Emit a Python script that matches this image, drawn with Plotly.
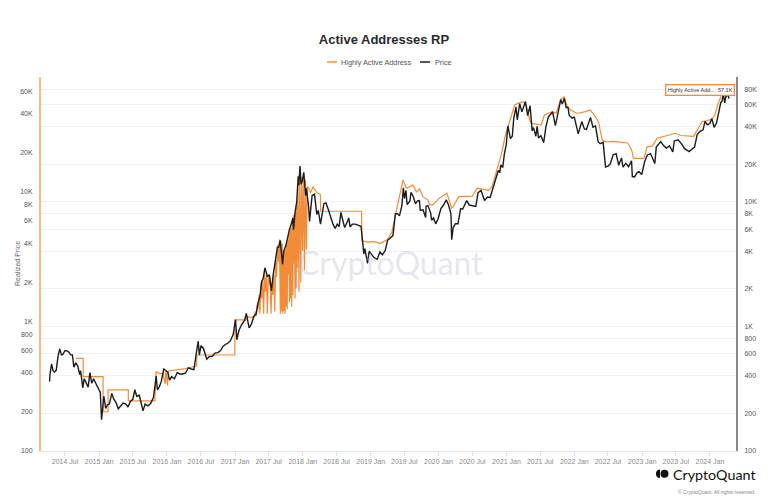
import plotly.graph_objects as go

# ---------------- data ----------------
price_dates = [
"2014-04-09","2014-04-12","2014-04-20","2014-04-28","2014-05-06","2014-05-15","2014-05-25","2014-06-03","2014-06-12","2014-06-20",
"2014-07-01","2014-07-12","2014-07-22","2014-08-01","2014-08-10","2014-08-18","2014-08-28","2014-09-08","2014-09-18","2014-09-23",
"2014-10-05","2014-10-12","2014-10-22","2014-11-03","2014-11-12","2014-11-22","2014-12-02","2014-12-15","2014-12-28","2015-01-07",
"2015-01-14","2015-01-20","2015-01-26","2015-02-05","2015-02-15","2015-02-25","2015-03-10","2015-03-20","2015-04-01","2015-04-14",
"2015-04-25","2015-05-10","2015-05-25","2015-06-05","2015-06-18","2015-07-01","2015-07-12","2015-07-22","2015-08-05","2015-08-18",
"2015-08-25","2015-09-05","2015-09-20","2015-10-05","2015-10-20","2015-11-04","2015-11-10","2015-11-20","2015-12-01","2015-12-15",
"2015-12-25","2016-01-05","2016-01-15","2016-01-26","2016-02-10","2016-02-25","2016-03-10","2016-03-25","2016-04-10","2016-04-25",
"2016-05-10","2016-05-25","2016-06-05","2016-06-17","2016-06-23","2016-07-02","2016-07-15","2016-08-02","2016-08-15","2016-09-01",
"2016-09-15","2016-10-01","2016-10-15","2016-10-28","2016-11-10","2016-11-25","2016-12-08","2016-12-22","2017-01-04","2017-01-11",
"2017-01-22","2017-02-05","2017-02-22","2017-03-03","2017-03-18","2017-03-30","2017-04-12","2017-04-25","2017-05-05","2017-05-15",
"2017-05-25","2017-06-01","2017-06-11","2017-06-25","2017-07-05","2017-07-16","2017-07-25","2017-08-05","2017-08-17","2017-08-24",
"2017-09-01","2017-09-14","2017-09-20","2017-10-01","2017-10-12","2017-10-21","2017-11-01","2017-11-08","2017-11-12","2017-11-20",
"2017-11-29","2017-12-07","2017-12-10","2017-12-17","2017-12-22","2017-12-28","2018-01-06","2018-01-16","2018-01-20","2018-02-01",
"2018-02-06","2018-02-20","2018-03-05","2018-03-17","2018-03-25","2018-04-06","2018-04-24","2018-05-05","2018-05-20","2018-06-01",
"2018-06-12","2018-06-24","2018-07-05","2018-07-15","2018-07-25","2018-08-05","2018-08-14","2018-08-30","2018-09-05","2018-09-12",
"2018-09-25","2018-10-10","2018-10-25","2018-11-10","2018-11-20","2018-11-25","2018-12-01","2018-12-15","2018-12-24","2019-01-05",
"2019-01-20","2019-02-05","2019-02-20","2019-03-05","2019-03-20","2019-04-02","2019-04-15","2019-05-01","2019-05-14","2019-05-25",
"2019-06-05","2019-06-18","2019-06-26","2019-07-02","2019-07-10","2019-07-16","2019-07-31","2019-08-06","2019-08-20","2019-08-30",
"2019-09-10","2019-09-20","2019-09-25","2019-10-10","2019-10-24","2019-10-26","2019-11-05","2019-11-20","2019-11-25","2019-12-05",
"2019-12-17","2019-12-30","2020-01-14","2020-01-28","2020-02-12","2020-02-25","2020-03-08","2020-03-12","2020-03-20","2020-04-01",
"2020-04-15","2020-04-29","2020-05-10","2020-05-20","2020-06-01","2020-06-15","2020-07-01","2020-07-20","2020-08-01","2020-08-17",
"2020-09-05","2020-09-20","2020-10-05","2020-10-21","2020-11-05","2020-11-18","2020-11-26","2020-12-01","2020-12-12","2020-12-20",
"2020-12-31","2021-01-08","2021-01-22","2021-02-01","2021-02-09","2021-02-21","2021-02-28","2021-03-13","2021-03-25","2021-04-13",
"2021-04-25","2021-05-08","2021-05-19","2021-05-26","2021-06-08","2021-06-15","2021-06-22","2021-07-05","2021-07-20","2021-08-01",
"2021-08-14","2021-09-06","2021-09-21","2021-10-01","2021-10-20","2021-10-28","2021-11-08","2021-11-18","2021-11-28","2021-12-04",
"2021-12-20","2022-01-01","2022-01-10","2022-01-22","2022-02-10","2022-02-24","2022-03-07","2022-03-29","2022-04-11","2022-04-25",
"2022-05-09","2022-05-20","2022-06-05","2022-06-13","2022-06-18","2022-07-01","2022-07-13","2022-07-29","2022-08-14","2022-08-28",
"2022-09-12","2022-09-20","2022-10-05","2022-10-20","2022-11-05","2022-11-09","2022-11-21","2022-12-05","2022-12-15","2022-12-30",
"2023-01-14","2023-01-29","2023-02-15","2023-03-10","2023-03-18","2023-04-11","2023-04-25","2023-05-11","2023-05-28","2023-06-15",
"2023-06-23","2023-07-13","2023-07-31","2023-08-17","2023-09-11","2023-09-25","2023-10-10","2023-10-24","2023-11-09","2023-11-25",
"2023-12-05","2023-12-17","2023-12-31","2024-01-11","2024-01-23","2024-02-05","2024-02-15","2024-02-28","2024-03-05","2024-03-13",
"2024-03-20","2024-03-27","2024-04-08","2024-04-12",
]
price_vals = [
360,420,500,440,430,445,580,660,590,595,
640,635,620,590,590,470,510,480,410,440,
320,380,355,325,425,350,380,345,320,295,
178,215,275,220,235,238,290,262,246,218,
226,242,238,225,250,260,310,275,280,225,
210,238,230,240,268,400,310,325,360,455,
440,430,370,395,380,425,415,415,422,465,
455,450,585,760,590,700,665,545,570,575,
610,615,640,690,715,735,770,860,1130,780,
925,1030,1120,1270,970,1040,1200,1260,1550,1740,
2300,2400,2950,2500,2600,1930,2550,3200,4300,4300,
4900,3150,4000,4400,5400,6000,6700,7400,5950,8200,
9900,16000,13500,19300,13800,14500,17200,11200,12800,9200,
6950,11200,11500,7900,8500,6600,9600,9800,8500,7500,
6600,6100,6600,6300,8200,7000,6200,7000,7400,6300,
6600,6600,6450,6350,4600,3800,4200,3200,4000,3800,
3550,3450,3950,3750,4050,4900,5100,5350,8000,8000,
7700,9300,12900,10600,12300,9500,10100,11900,10800,9600,
10150,10200,8500,8600,7450,9200,9300,8100,7100,7400,
6640,7300,8800,9400,10350,9300,8000,4950,6200,6650,
6650,8800,8700,9500,10200,9400,9230,9150,11800,12300,
10200,10900,10800,12800,15600,17800,17100,19700,18800,23800,
29000,40500,32000,33500,46500,57500,45200,61200,52500,63500,
49000,58800,37000,39300,33500,40200,32500,33800,29800,39800,
47800,52600,40700,48200,65900,60600,67500,56900,57200,49300,
46700,47600,41800,35000,43900,38300,38000,47400,39500,40500,
30300,29200,29900,22500,19000,19300,20000,23800,24300,19600,
22400,18900,20300,19100,21300,15900,15800,17100,17400,16500,
20900,23700,24300,20200,27400,30300,28300,26900,28000,25100,
30700,31400,29200,26600,25200,26300,27400,34500,36700,37700,
44000,41400,42300,46400,39500,42700,51900,62400,63800,73100,
62000,70000,71600,67000,
]

hiaa_dates = [
"2014-08-28","2014-10-07","2014-10-07","2015-01-22","2015-01-22","2015-02-18","2015-02-18","2015-06-07","2015-06-07","2015-10-28",
"2015-11-03","2015-11-25","2015-12-10","2015-12-22","2015-12-26","2016-01-04","2016-01-08","2016-02-15","2016-04-01","2016-05-15",
"2016-06-08","2016-06-10","2016-12-31","2017-01-01","2017-03-01","2017-03-02","2017-04-15",
"2017-04-20","2017-04-25","2017-04-30","2017-05-05","2017-05-10","2017-05-15","2017-05-20","2017-05-25","2017-05-30","2017-06-04",
"2017-06-09","2017-06-14","2017-06-19","2017-06-24","2017-06-29","2017-07-04","2017-07-09","2017-07-14","2017-07-19","2017-07-24",
"2017-07-29","2017-08-03","2017-08-08","2017-08-13","2017-08-18","2017-08-23","2017-08-28","2017-09-02","2017-09-05","2017-09-09",
"2017-09-12","2017-09-15","2017-09-18","2017-09-21","2017-09-24","2017-09-27","2017-09-30","2017-10-03","2017-10-06","2017-10-09",
"2017-10-12","2017-10-15","2017-10-18","2017-10-21","2017-10-24","2017-10-27","2017-10-30","2017-11-02","2017-11-05","2017-11-08",
"2017-11-11","2017-11-14","2017-11-17","2017-11-20","2017-11-23","2017-11-26","2017-11-29","2017-12-02","2017-12-06","2017-12-11",
"2017-12-16","2017-12-21","2017-12-26","2017-12-31","2018-01-05","2018-01-10","2018-01-15","2018-01-20","2018-01-25",
"2018-02-01","2018-02-12","2018-02-24","2018-03-08","2018-03-20","2018-04-05","2018-04-07","2018-11-13","2018-11-15","2018-12-15",
"2019-01-20","2019-02-20","2019-04-01","2019-04-25","2019-05-20","2019-06-05","2019-06-24","2019-07-12","2019-08-17","2019-09-04",
"2019-09-21","2019-10-09","2019-11-05","2019-11-14","2019-12-01","2020-01-07","2020-02-15","2020-03-12","2020-03-20","2020-04-19",
"2020-07-01","2020-07-27","2020-09-27","2020-10-15","2020-11-01","2020-11-19","2020-12-06","2020-12-24","2021-01-10","2021-01-28",
"2021-02-14","2021-03-04","2021-03-31","2021-04-17","2021-05-06","2021-05-15","2021-07-07","2021-07-24","2021-09-06","2021-09-24",
"2021-10-20","2021-11-08","2021-11-24","2021-12-12","2022-01-16","2022-03-01","2022-03-28","2022-04-25","2022-05-12","2022-05-31",
"2022-06-18","2022-08-01","2022-10-15","2022-11-01","2022-11-08","2022-11-15","2023-01-10","2023-01-28","2023-02-24","2023-03-23",
"2023-04-19","2023-05-16","2023-06-30","2023-07-27","2023-10-05","2023-10-24","2023-11-20","2024-01-10","2024-01-27","2024-02-14",
"2024-03-03","2024-03-20","2024-04-12",
]
hiaa_vals = [
520,520,375,375,201,201,296,296,244,244,
410,395,400,330,420,320,415,420,430,445,
455,551,551,1030,1030,1080,1080,
1200,1100,1350,1250,1600,1150,2000,1500,2100,1150,
2400,1700,2300,1150,2200,1900,2150,1150,2000,1600,
2300,1200,3000,2200,3900,2900,4300,1150,4200,1200,
4000,1150,3300,1200,3500,1150,3600,1300,4000,1250,
4300,2300,4800,1400,5200,1500,5300,1300,6000,1600,
6600,2800,6800,1500,7600,1800,8500,2600,11000,1700,
15500,2000,13000,3500,14000,2500,12500,3600,11000,
10800,9800,11000,10400,9800,9600,7100,7100,4200,4100,
4150,4000,4300,4900,7200,9200,12400,10700,11300,10000,
10600,9200,8700,7950,7950,9000,9800,7500,7700,9200,
9300,10700,10300,11000,13500,16200,19900,26700,31900,39300,
47000,48400,49800,47000,36000,34000,32900,39300,41700,40400,
52000,54500,45600,43000,40400,41700,43000,38000,34600,25200,
24400,24600,23900,21800,20500,18200,18200,22400,22600,26000,
26700,27500,28400,27300,26900,30100,34900,36400,39300,48400,
56000,58000,57100,
]

left_ticks = [100, 200, 400, 600, 800, 1000, 2000, 4000, 6000, 8000, 10000, 20000, 40000, 60000]
left_labels = ["100", "200", "400", "600", "800", "1K", "2K", "4K", "6K", "8K", "10K", "20K", "40K", "60K"]
right_ticks = left_ticks + [80000]
right_labels = left_labels + ["80K"]

series_names = ["Highly Active Address", "Price"]
ORANGE = "rgb(242,140,56)"
BLACK = "#1c1c1c"
FONT = "Liberation Sans, Arial, sans-serif"

# ---------------- layout helpers (pixel -> paper) ----------------
W, H = 768, 503
L, R, T, B = 41, 32, 77, 52
PW, PH = W - L - R, H - T - B
def px(x):
    return (x - L) / PW
def py(y):
    return (H - B - y) / PH

fig = go.Figure()
fig.add_trace(go.Scatter(x=hiaa_dates, y=hiaa_vals, name=series_names[0], mode="lines",
                         line=dict(color=ORANGE, width=1.2), yaxis="y"))
fig.add_trace(go.Scatter(x=price_dates, y=price_vals, name=series_names[1], mode="lines",
                         line=dict(color=BLACK, width=1.4), yaxis="y2"))

fig.update_layout(
    width=W, height=H,
    margin=dict(l=L, r=R, t=T, b=B, pad=0),
    paper_bgcolor="white", plot_bgcolor="white",
    font=dict(family=FONT, color="#555"),
    title=dict(text="<b>Active Addresses RP</b>", x=0.5, xanchor="center", y=1 - 39 / H, yanchor="middle",
               font=dict(size=13, color="#2a2a2a", family=FONT)),
    showlegend=False,
    xaxis=dict(type="date", range=["2014-02-22", "2024-05-20"], dtick="M6", tick0="2014-01-01",
               tickformat="%Y %b", showgrid=False, showline=True, linecolor="#e4e4e4", linewidth=1,
               ticks="outside", ticklen=4, tickcolor="#e0e0e0", tickfont=dict(size=7, color="#8a8a8a"),
               zeroline=False),
    yaxis=dict(type="log", range=[2, 4.888], tickvals=left_ticks, ticktext=left_labels,
               showgrid=False, showline=True, linecolor="rgba(242,140,56,0.6)", linewidth=2,
               ticks="", ticklabelstandoff=5, tickfont=dict(size=7, color="#555"), zeroline=False),
    yaxis2=dict(type="log", range=[2, 5], overlaying="y", side="right", tickvals=right_ticks,
                ticktext=right_labels, showgrid=True, gridcolor="#f1f1f1", gridwidth=1,
                showline=True, linecolor="#8a8a8a", linewidth=2, ticks="", ticklabelstandoff=5,
                tickfont=dict(size=7, color="#555"), zeroline=False),
)

annotations = [
    # watermark
    dict(text="CryptoQuant", x=px(390), y=py(262), xref="paper", yref="paper", showarrow=False,
         font=dict(size=32, color="rgba(185,185,205,0.35)", family="Lato, sans-serif"),
         xanchor="center", yanchor="middle"),
    # custom compact legend texts
    dict(text=series_names[0], x=px(339), y=py(62), xref="paper", yref="paper", showarrow=False,
         xanchor="left", yanchor="middle", font=dict(size=7.3, color="#555")),
    dict(text=series_names[1], x=px(433), y=py(62), xref="paper", yref="paper", showarrow=False,
         xanchor="left", yanchor="middle", font=dict(size=7.3, color="#555")),
    # y axis title
    dict(text="Realized Price", x=px(17), y=py(264), xref="paper", yref="paper", showarrow=False,
         textangle=-90, font=dict(size=7, color="#666"), xanchor="center", yanchor="middle"),
    # last value label
    dict(text="Highly Active Add...: 57.1K", x=px(734.5), y=py(89.5), xref="paper", yref="paper",
         showarrow=False, xanchor="right", yanchor="middle", font=dict(size=5.5, color="#333"),
         bgcolor="white", bordercolor=ORANGE, borderwidth=1.3, borderpad=1.5),
    # logo text
    dict(text="CryptoQuant", x=px(758), y=py(474), xref="paper", yref="paper", showarrow=False,
         xanchor="right", yanchor="middle", font=dict(size=14.3, color="#111", family="Lato, sans-serif")),
    dict(text="© CryptoQuant. All rights reserved.", x=px(757), y=py(492), xref="paper", yref="paper",
         showarrow=False, xanchor="right", yanchor="middle", font=dict(size=5, color="#888")),
]
fig.update_layout(annotations=annotations)

# legend line samples
fig.add_shape(type="line", xref="paper", yref="paper", x0=px(327), x1=px(337), y0=py(62), y1=py(62),
              line=dict(color="rgba(242,140,56,0.7)", width=2))
fig.add_shape(type="line", xref="paper", yref="paper", x0=px(420), x1=px(430), y0=py(62), y1=py(62),
              line=dict(color="#555", width=2))

# logo icon (decoration)
fig.add_shape(type="path", xref="paper", yref="paper",
              path=f"M {px(660)} {py(469.5)} C {px(654.5)} {py(469.5)} {px(654.5)} {py(478)} {px(660)} {py(478)} Z",
              fillcolor="#111", line=dict(width=0))
fig.add_shape(type="circle", xref="paper", yref="paper",
              x0=px(660.5), x1=px(668.5), y0=py(477.8), y1=py(469.7),
              fillcolor="#111", line=dict(width=0))

fig.write_html("out.html")
